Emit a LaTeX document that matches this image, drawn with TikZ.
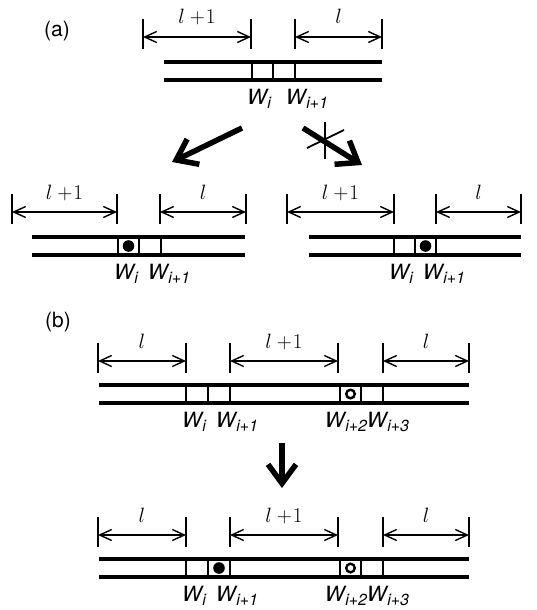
\documentclass[tikz,border=0pt]{standalone}
\usepackage{fontspec}
\setsansfont{TeX Gyre Heros}
\usetikzlibrary{arrows.meta}
\tikzset{
  rail/.style={line width=3.4pt},
  wbarline/.style={line width=2.8pt},
  tickline/.style={line width=1.4pt},
  dimline/.style={line width=1.4pt,{Straight Barb[length=12pt,width=11pt]}-{Straight Barb[length=12pt,width=11pt]}},
  bigarrow/.style={line width=5.5pt,-{Straight Barb[length=19pt,width=28pt]}},
  dimlabel/.style={anchor=base,inner sep=0pt,font=\fontsize{21}{21}\selectfont},
  wlabel/.style={anchor=base,inner sep=0pt,font=\fontsize{21}{21}\selectfont\sffamily\itshape},
  panel/.style={anchor=center,inner sep=0pt,font=\fontsize{21}{21}\selectfont\sffamily},
  ring/.style={draw=black,line width=2.4pt},
  crossmark/.style={line width=1.8pt}
}
\newcommand\dimspan[5]{%
  \draw[tickline] (#2,#4-18) -- (#2,#4+12);
  \draw[tickline] (#3,#4-18) -- (#3,#4+12);
  \draw[dimline] (#2,#4) -- (#3,#4);
  \node[dimlabel] (#1) at ({(#2+#3)/2},#4-13) {#5};
}
\newcommand\railpair[3]{%
  \draw[rail] (#1,#3) -- (#2,#3);
  \draw[rail] (#1,#3+18) -- (#2,#3+18);
}
\newcommand\wbar[2]{\draw[wbarline] (#1,#2) -- (#1,#2+18);}
\newcommand\wsub[1]{W\kern0.5pt\raisebox{-4pt}{\fontsize{16}{16}\selectfont #1}}
\newcommand\lplus{$l$\kern5pt+\kern1pt1}
\begin{document}
\begin{tikzpicture}[x=1pt,y=-1pt]
\useasboundingbox (0,0) rectangle (537,610);
% ---------- (a) top ----------
\node[panel] (pa) at (57,31) {(a)};
\dimspan{ta1}{143}{251}{37}{\lplus}
\dimspan{ta2}{295}{382}{37}{$l$}
\railpair{164}{382}{62}
\wbar{252}{62}\wbar{273}{62}\wbar{295}{62}
\node[wlabel] (tw1) at (259,104) {\wsub{i}};
\node[wlabel] (tw2) at (307,104) {\wsub{i+1}};
% arrows
\coordinate (lstart) at (242,128);
\coordinate (lend) at (172,162);
\draw[bigarrow] (lstart) -- (lend);
\coordinate (rstart) at (303,128);
\coordinate (rend) at (362,165);
\draw[bigarrow] (rstart) -- (rend);
\coordinate (c1a) at (325,122); \coordinate (c1b) at (325,159);
\coordinate (c2a) at (307,148); \coordinate (c2b) at (344,130);
\draw[crossmark] (c1a) -- (c1b);
\draw[crossmark] (c2a) -- (c2b);
% ---------- (a) left ----------
\dimspan{la1}{12}{117}{212}{\lplus}
\dimspan{la2}{160}{246}{212}{$l$}
\railpair{32}{245}{237}
\wbar{118}{237}\wbar{139}{237}\wbar{161}{237}
\fill (128.5,246) circle (5.8pt);
\node[wlabel] (lw1) at (126,279) {\wsub{i}};
\node[wlabel] (lw2) at (169,279) {\wsub{i+1}};
% ---------- (a) right ----------
\dimspan{ra1}{287}{394}{212}{\lplus}
\dimspan{ra2}{436}{521}{212}{$l$}
\railpair{309}{521}{237}
\wbar{394}{237}\wbar{415}{237}\wbar{436}{237}
\fill (425.5,246) circle (5.8pt);
\node[wlabel] (rw1) at (401,279) {\wsub{i}};
\node[wlabel] (rw2) at (444,279) {\wsub{i+1}};
% ---------- (b) top ----------
\node[panel] (pb) at (58,322) {(b)};
\dimspan{b1}{98}{186}{361}{$l$}
\dimspan{b2}{230}{338}{361}{\lplus}
\dimspan{b3}{383}{469}{361}{$l$}
\railpair{99}{469}{385}
\wbar{186}{385}\wbar{208}{385}\wbar{230}{385}
\wbar{340}{385}\wbar{361}{385}\wbar{383}{385}
\draw[ring] (350.5,394) circle (4.3pt);
\node[wlabel] (bw1) at (194,427) {\wsub{i}};
\node[wlabel] (bw2) at (237,427) {\wsub{i+1}};
\node[wlabel] (bw3) at (346,427) {\wsub{i+2}};
\node[wlabel] (bw4) at (388,427) {\wsub{i+3}};
% down arrow
\coordinate (dstart) at (282,443);
\coordinate (dend) at (282,488);
\draw[bigarrow] (dstart) -- (dend);
% ---------- (b) bottom ----------
\dimspan{c1}{98}{186}{535}{$l$}
\dimspan{c2}{230}{338}{535}{\lplus}
\dimspan{c3}{383}{469}{535}{$l$}
\railpair{99}{469}{559}
\wbar{186}{559}\wbar{208}{559}\wbar{230}{559}
\wbar{340}{559}\wbar{361}{559}\wbar{383}{559}
\fill (219,568) circle (5.8pt);
\draw[ring] (350.5,568) circle (4.3pt);
\node[wlabel] (cw1) at (194,601) {\wsub{i}};
\node[wlabel] (cw2) at (237,601) {\wsub{i+1}};
\node[wlabel] (cw3) at (346,601) {\wsub{i+2}};
\node[wlabel] (cw4) at (388,601) {\wsub{i+3}};
\end{tikzpicture}
\end{document}
